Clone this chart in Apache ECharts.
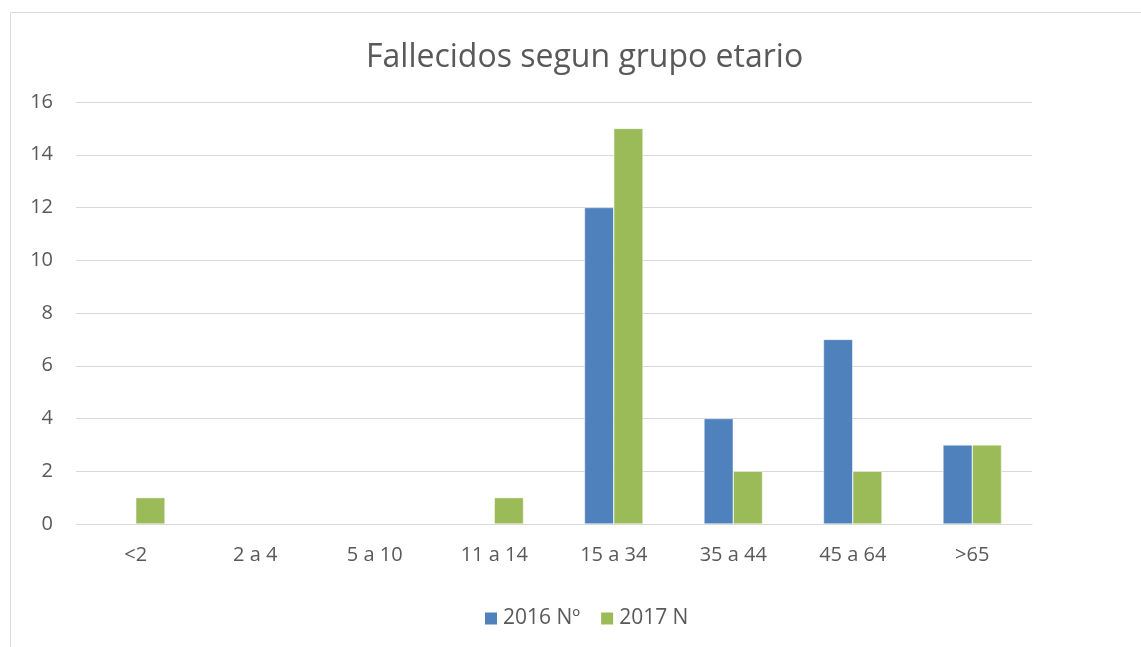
<!DOCTYPE html>
<html>
<head>
<meta charset="utf-8">
<script src="https://cdn.jsdelivr.net/npm/echarts@6/dist/echarts.min.js"></script>
<style>
  html, body { margin: 0; padding: 0; background: #fff; }
  #chart { width: 1141px; height: 647px; }
</style>
</head>
<body>
<div id="chart"></div>
<script>
const categories = ['<2', '2 a 4', '5 a 10', '11 a 14', '15 a 34', '35 a 44', '45 a 64', '>65']
const data2016 = [0, 0, 0, 0, 12, 4, 7, 3]
const data2017 = [1, 0, 0, 1, 15, 2, 2, 3]
const seriesNames = ['2016 Nº', '2017 N']

const font = "'Open Sans', sans-serif"
const textColor = '#595959'

const chart = echarts.init(document.getElementById('chart'))
chart.setOption({
  animation: false,
  graphic: [{
    type: 'rect',
    shape: { x: 10.5, y: 12.5, width: 1200, height: 700 },
    style: { fill: 'none', stroke: '#d9d9d9', lineWidth: 1 },
    silent: true
  }],
  title: {
    text: 'Fallecidos segun grupo etario',
    left: 361,
    top: 37,
    textStyle: { fontFamily: font, fontSize: 32, fontWeight: 'normal', color: textColor }
  },
  legend: {
    data: seriesNames,
    top: 603,
    left: 478,
    itemWidth: 14,
    itemHeight: 14,
    itemGap: 19,
    icon: 'rect',
    textStyle: { fontFamily: font, fontSize: 21, color: textColor }
  },
  grid: { left: 76, right: 109, top: 102, bottom: 123, containLabel: false },
  xAxis: {
    type: 'category',
    data: categories,
    z: 3,
    axisLine: { lineStyle: { color: '#d9d9d9', width: 1 } },
    axisTick: { show: false },
    axisLabel: { fontFamily: font, fontSize: 20, color: textColor, margin: 21 }
  },
  yAxis: {
    type: 'value',
    min: 0,
    max: 16,
    interval: 2,
    axisLine: { show: false },
    axisTick: { show: false },
    splitLine: { lineStyle: { color: '#d9d9d9', width: 1 } },
    axisLabel: { fontFamily: font, fontSize: 20, color: textColor, margin: 23 }
  },
  series: [{
    name: seriesNames[0],
    type: 'bar',
    data: data2016,
    barGap: '0%',
    barCategoryGap: '51%',
    itemStyle: { color: '#4f81bd', borderColor: '#fff', borderWidth: 0.5 }
  }, {
    name: seriesNames[1],
    type: 'bar',
    data: data2017,
    itemStyle: { color: '#9bbb59', borderColor: '#fff', borderWidth: 0.5 }
  }]
})
</script>
</body>
</html>
